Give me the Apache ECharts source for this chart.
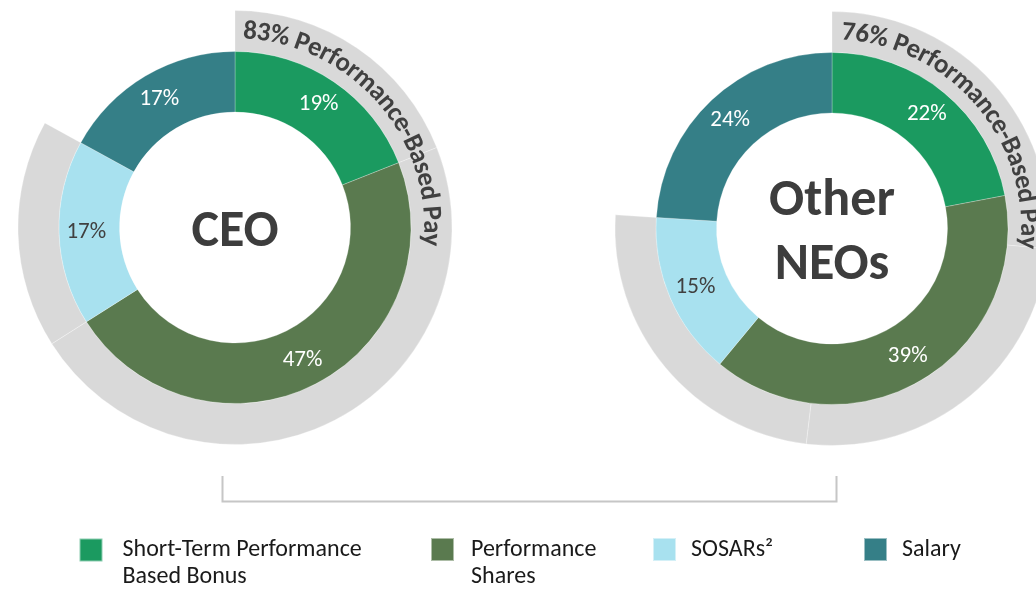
<!DOCTYPE html>
<html>
<head>
<meta charset="utf-8">
<script src="https://cdn.jsdelivr.net/npm/echarts@6/dist/echarts.min.js"></script>
<style>html,body{margin:0;padding:0;background:#fff;}#c{width:1036px;height:589px;}</style>
</head>
<body>
<div id="c"></div>
<script>
// ---- data ----
const categories = ['Short-Term Performance Based Bonus', 'Performance Shares', 'SOSARs²', 'Salary'];
const legendLabels = ['\nShort-Term Performance\nBased Bonus', '\nPerformance\nShares', 'SOSARs²', 'Salary'];
const ceoValues = [19, 47, 17, 17];
const neoValues = [22, 39, 15, 24];
const ceoRingPieces = [19, 47, 17];        // grey "performance-based" ring pieces
const neoRingPieces = [26.5, 25.4, 24.1];
const ceoPerfPct = 83;
const neoPerfPct = 76;
const centerTitles = ['CEO', 'Other\nNEOs'];
const ringTitles = ['83% Performance-Based Pay', '76% Performance-Based Pay'];

// ---- style ----
const colors = ['#1b9a60', '#5a7a4f', '#a8e1ef', '#357f87'];
const labelColors = ['#ffffff', '#ffffff', '#404040', '#ffffff'];
const FONT = 'Carlito, Lato, sans-serif';
const ceoC = [235, 227.5], neoC = [832, 228.5];
const innerR = [115.5, 176], ringR = [176, 217];

const chart = echarts.init(document.getElementById('c'), null, {renderer: 'canvas'});

function donut(values, center) {
  return {
    type: 'pie', center: center, radius: innerR, startAngle: 90, clockwise: true,
    silent: true, avoidLabelOverlap: false, z: 3,
    itemStyle: {borderColor: 'rgba(255,255,255,0.5)', borderWidth: 0.5},
    label: {show: true, position: 'inside', formatter: '{c}%', fontFamily: FONT, fontSize: 23},
    labelLine: {show: false},
    data: values.map((v, i) => ({name: categories[i], value: v,
      itemStyle: {color: colors[i]}, label: {color: labelColors[i]}}))
  };
}
function ring(pieces, pct, center) {
  const data = pieces.map((v, i) => ({name: 'ring' + i, value: v,
    itemStyle: {color: '#d9d9d9', borderColor: 'rgba(255,255,255,0.6)', borderWidth: 0.5}}));
  data.push({name: 'rest', value: 100 - pct, itemStyle: {color: 'rgba(0,0,0,0)', borderWidth: 0}});
  return {type: 'pie', center: center, radius: ringR, startAngle: 90, clockwise: true,
    silent: true, z: 2, label: {show: false}, labelLine: {show: false}, data: data};
}

// curved text along ring
const mctx = document.createElement('canvas').getContext('2d');
function arcText(text, c, r, startDeg, endDeg) {
  mctx.font = 'bold 24px ' + FONT;
  let L = 0;
  for (const ch of text) L += mctx.measureText(ch).width;
  const span = (endDeg - startDeg) * Math.PI / 180 * r;
  const size = 24 * span / L;
  mctx.font = 'bold ' + size + 'px ' + FONT;
  let a = startDeg * Math.PI / 180;
  const els = [];
  for (const ch of text) {
    const w = mctx.measureText(ch).width;
    const mid = a + (w / 2) / r;
    els.push({type: 'text', silent: true, z: 10,
      x: c[0] + r * Math.sin(mid), y: c[1] - r * Math.cos(mid), rotation: -mid,
      style: {text: ch, fontFamily: FONT, fontWeight: 'bold', fontSize: size, fill: '#404040',
        align: 'center', verticalAlign: 'middle'}});
    a += w / r;
  }
  return els;
}

function legendItem(i, left, top, padLeft) {
  return {
    data: [categories[i]], left: left, top: top, orient: 'horizontal', padding: 0,
    selectedMode: false, icon: 'rect', itemWidth: 23, itemHeight: 23,
    formatter: () => legendLabels[i],
    textStyle: {fontFamily: FONT, fontSize: 24, color: '#1a1a1a', lineHeight: 27,
      padding: [0, 0, 0, padLeft]}
  };
}

const graphics = []
  .concat(arcText(ringTitles[0], ceoC, 196, 2.4, 95.5))
  .concat(arcText(ringTitles[1], neoC, 196, 2.9, 96))
  .concat([
    {type: 'text', silent: true, z: 10, x: ceoC[0], y: 233,
      style: {text: centerTitles[0], fontFamily: FONT, fontWeight: 'bold', fontSize: 52, fill: '#3d3d3d', align: 'center', verticalAlign: 'middle'}},
    {type: 'text', silent: true, z: 10, x: neoC[0], y: 234,
      style: {text: centerTitles[1], fontFamily: FONT, fontWeight: 'bold', fontSize: 52, lineHeight: 64.5, fill: '#3d3d3d', align: 'center', verticalAlign: 'middle'}},
    {type: 'polyline', silent: true, shape: {points: [[222.5, 476], [222.5, 501.5], [836.5, 501.5], [836.5, 476]]},
      style: {stroke: '#c6c6c6', lineWidth: 2, fill: null}}
  ]);

chart.setOption({
  animation: false,
  backgroundColor: '#ffffff',
  legend: [
    legendItem(0, 78.5, 509.5, 15),
    legendItem(1, 430, 509, 12),
    legendItem(2, 652, 536, 10),
    legendItem(3, 863, 536, 10)
  ],
  series: [
    donut(ceoValues, ceoC), donut(neoValues, neoC),
    ring(ceoRingPieces, ceoPerfPct, ceoC), ring(neoRingPieces, neoPerfPct, neoC)
  ],
  graphic: graphics
});
</script>
</body>
</html>
